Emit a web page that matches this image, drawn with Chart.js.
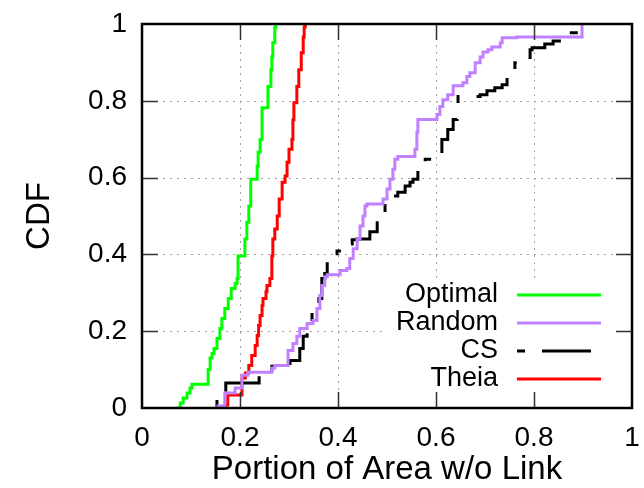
<!DOCTYPE html>
<html>
<head>
<meta charset="utf-8">
<script src="https://cdn.jsdelivr.net/npm/chart.js@4.4.0/dist/chart.umd.min.js"></script>
<style>
  html, body { margin: 0; padding: 0; background: #fff; }
  canvas { display: block; }
</style>
</head>
<body>
<canvas id="graphiqueCDF" width="644" height="488"></canvas>
<script>
// ==========================================================
// DONNEES
// ==========================================================
const nomsSeries = ['Optimal', 'Random', 'CS', 'Theia'];
const xTickLabels = ['0', '0.2', '0.4', '0.6', '0.8', '1'];
const yTickLabels = ['0', '0.2', '0.4', '0.6', '0.8', '1'];

const optimalX = [0.069, 0.078, 0.084, 0.092, 0.098, 0.102, 0.133, 0.135, 0.139, 0.143, 0.147, 0.153, 0.159, 0.163, 0.169, 0.176, 0.182, 0.190, 0.194, 0.196, 0.206, 0.210, 0.214, 0.218, 0.222, 0.231, 0.235, 0.237, 0.241, 0.245, 0.247, 0.257, 0.263, 0.265, 0.267, 0.271, 0.273];
const optimalY = [0, 0.013, 0.026, 0.039, 0.052, 0.062, 0.062, 0.100, 0.130, 0.142, 0.155, 0.181, 0.207, 0.233, 0.259, 0.285, 0.311, 0.324, 0.337, 0.396, 0.396, 0.440, 0.484, 0.526, 0.596, 0.596, 0.630, 0.666, 0.699, 0.782, 0.782, 0.837, 0.881, 0.915, 0.951, 0.990, 1];

const randomX = [0.155, 0.155, 0.169, 0.190, 0.204, 0.216, 0.265, 0.271, 0.298, 0.298, 0.308, 0.316, 0.322, 0.337, 0.349, 0.357, 0.363, 0.367, 0.373, 0.378, 0.400, 0.404, 0.418, 0.424, 0.431, 0.439, 0.445, 0.451, 0.455, 0.459, 0.490, 0.492, 0.500, 0.506, 0.512, 0.516, 0.522, 0.553, 0.557, 0.561, 0.563, 0.594, 0.602, 0.608, 0.614, 0.624, 0.635, 0.655, 0.663, 0.669, 0.680, 0.690, 0.696, 0.706, 0.714, 0.731, 0.735, 0.765, 0.898, 0.898];
const randomY = [0, 0.005, 0.039, 0.052, 0.085, 0.093, 0.104, 0.111, 0.111, 0.150, 0.168, 0.187, 0.207, 0.220, 0.228, 0.259, 0.293, 0.319, 0.342, 0.347, 0.347, 0.358, 0.363, 0.389, 0.415, 0.440, 0.474, 0.500, 0.526, 0.531, 0.531, 0.544, 0.570, 0.596, 0.622, 0.648, 0.655, 0.655, 0.674, 0.718, 0.751, 0.751, 0.764, 0.785, 0.803, 0.816, 0.839, 0.847, 0.863, 0.873, 0.899, 0.914, 0.927, 0.933, 0.940, 0.951, 0.964, 0.966, 0.966, 1];

const csX = [0.153, 0.153, 0.171, 0.171, 0.237, 0.239, 0.265, 0.302, 0.322, 0.329, 0.337, 0.347, 0.347, 0.361, 0.367, 0.373, 0.378, 0.384, 0.398, 0.408, 0.418, 0.429, 0.439, 0.465, 0.480, 0.496, 0.510, 0.522, 0.537, 0.547, 0.553, 0.563, 0.578, 0.592, 0.612, 0.624, 0.635, 0.643, 0.645, 0.673, 0.690, 0.704, 0.720, 0.735, 0.745, 0.761, 0.765, 0.782, 0.792, 0.796, 0.808, 0.822, 0.839, 0.863, 0.898, 0.904, 0.908];
const csY = [0, 0.021, 0.039, 0.065, 0.065, 0.083, 0.109, 0.124, 0.155, 0.187, 0.207, 0.233, 0.251, 0.285, 0.337, 0.350, 0.389, 0.402, 0.409, 0.420, 0.427, 0.438, 0.440, 0.459, 0.505, 0.544, 0.552, 0.562, 0.578, 0.588, 0.596, 0.630, 0.648, 0.668, 0.699, 0.725, 0.751, 0.782, 0.811, 0.811, 0.816, 0.826, 0.834, 0.842, 0.863, 0.899, 0.907, 0.907, 0.933, 0.938, 0.938, 0.948, 0.956, 0.977, 0.977, 0.984, 1];

const theiaX = [0.171, 0.171, 0.175, 0.202, 0.204, 0.211, 0.218, 0.224, 0.231, 0.235, 0.238, 0.241, 0.245, 0.247, 0.253, 0.255, 0.261, 0.265, 0.267, 0.271, 0.276, 0.280, 0.286, 0.292, 0.296, 0.300, 0.306, 0.308, 0.310, 0.316, 0.320, 0.325, 0.329, 0.331, 0.333];
const theiaY = [0, 0.008, 0.034, 0.034, 0.078, 0.091, 0.111, 0.137, 0.163, 0.189, 0.215, 0.241, 0.267, 0.285, 0.303, 0.319, 0.337, 0.396, 0.440, 0.466, 0.500, 0.544, 0.588, 0.604, 0.640, 0.674, 0.699, 0.750, 0.795, 0.837, 0.881, 0.925, 0.966, 0.992, 1];

// ==========================================================
// CONSTRUCTION DES SERIES
// ==========================================================
const versPoints = (xs, ys) => xs.map((v, i) => ({ x: v, y: ys[i] }));

const series = [
    { nom: nomsSeries[0], pts: versPoints(optimalX, optimalY), couleur: '#00ff00', tirets: [] },
    { nom: nomsSeries[1], pts: versPoints(randomX, randomY), couleur: '#c080ff', tirets: [] },
    { nom: nomsSeries[2], pts: versPoints(csX, csY), couleur: '#000000', tirets: [8, 17, 49, 17] },
    { nom: nomsSeries[3], pts: versPoints(theiaX, theiaY), couleur: '#ff0000', tirets: [] }
];

const datasets = series.map(s => ({
    label: s.nom,
    data: s.pts,
    borderColor: s.couleur,
    borderWidth: 3,
    borderDash: s.tirets,
    pointRadius: 0,
    fill: false,
    tension: 0,
    stepped: true
}));

// ==========================================================
// CADRE, GRILLE, GRADUATIONS ET LEGENDE facon gnuplot
// ==========================================================
const police = '"Liberation Sans", Arial, sans-serif';

const cadreGnuplot = {
    id: 'cadreGnuplot',
    beforeDatasetsDraw(chart) {
        const { ctx, chartArea: a, scales: { x, y } } = chart;
        ctx.save();
        ctx.strokeStyle = '#a0a0a0';
        ctx.lineWidth = 1;
        ctx.setLineDash([2, 5]);
        x.ticks.forEach(t => {
            if (t.value <= 0 || t.value >= 1) return;
            const px = Math.round(x.getPixelForValue(t.value)) + 0.5;
            ctx.beginPath(); ctx.moveTo(px, a.top); ctx.lineTo(px, a.bottom); ctx.stroke();
        });
        y.ticks.forEach(t => {
            if (t.value <= 0 || t.value >= 1) return;
            const py = Math.round(y.getPixelForValue(t.value)) + 0.5;
            ctx.beginPath(); ctx.moveTo(a.left, py); ctx.lineTo(a.right, py); ctx.stroke();
        });
        ctx.setLineDash([]);
        // fond blanc de la legende
        ctx.fillStyle = '#ffffff';
        ctx.fillRect(385, 281, a.right - 385, a.bottom - 281);
        ctx.restore();
    },
    afterDatasetsDraw(chart) {
        const { ctx, chartArea: a, scales: { x, y } } = chart;
        const longTick = 16;
        ctx.save();
        ctx.strokeStyle = '#333';
        ctx.lineWidth = 1.5;
        x.ticks.forEach(t => {
            if (t.value <= 0 || t.value >= 1) return;
            const px = Math.round(x.getPixelForValue(t.value)) + 0.5;
            ctx.beginPath();
            ctx.moveTo(px, a.bottom); ctx.lineTo(px, a.bottom - longTick);
            ctx.moveTo(px, a.top); ctx.lineTo(px, a.top + longTick);
            ctx.stroke();
        });
        y.ticks.forEach(t => {
            if (t.value <= 0 || t.value >= 1) return;
            const py = Math.round(y.getPixelForValue(t.value)) + 0.5;
            ctx.beginPath();
            ctx.moveTo(a.left, py); ctx.lineTo(a.left + longTick, py);
            ctx.moveTo(a.right, py); ctx.lineTo(a.right - longTick, py);
            ctx.stroke();
        });
        // bordure
        ctx.strokeStyle = '#000';
        ctx.lineWidth = 2.5;
        ctx.strokeRect(a.left, a.top, a.right - a.left, a.bottom - a.top);

        // legende
        ctx.font = '27px ' + police;
        ctx.textAlign = 'right';
        ctx.textBaseline = 'middle';
        chart.data.datasets.forEach((ds, i) => {
            const ly = 295 + i * 28;
            ctx.fillStyle = '#000';
            ctx.fillText(ds.label, 498, ly);
            ctx.strokeStyle = ds.borderColor;
            ctx.lineWidth = 3;
            ctx.setLineDash(ds.borderDash || []);
            ctx.beginPath(); ctx.moveTo(517, ly); ctx.lineTo(601, ly); ctx.stroke();
        });
        ctx.restore();
    }
};

// ==========================================================
// GRAPHIQUE
// ==========================================================
const ctx = document.getElementById('graphiqueCDF').getContext('2d');
new Chart(ctx, {
    type: 'line',
    data: { datasets: datasets },
    options: {
        responsive: false,
        animation: false,
        layout: { padding: { top: 24, right: 12, left: 0, bottom: 0 } },
        plugins: { legend: { display: false }, tooltip: { enabled: false } },
        scales: {
            x: {
                type: 'linear',
                min: 0, max: 1,
                grid: { display: false },
                border: { display: false },
                ticks: {
                    stepSize: 0.2,
                    padding: 5,
                    color: '#000',
                    font: { family: police, size: 28, lineHeight: 1.2 },
                    callback: (v, i) => xTickLabels[i]
                },
                title: {
                    display: true,
                    text: 'Portion of Area w/o Link',
                    color: '#000',
                    font: { family: police, size: 33, lineHeight: 1 },
                    padding: { top: 0, bottom: 2 }
                },
                afterFit: scale => {
                    scale.height = 80;
                    scale.paddingLeft = 0;
                    scale.paddingRight = 0;
                }
            },
            y: {
                min: 0, max: 1,
                grid: { display: false },
                border: { display: false },
                ticks: {
                    stepSize: 0.2,
                    padding: 7,
                    color: '#000',
                    font: { family: police, size: 28, lineHeight: 1.2 },
                    callback: (v, i) => yTickLabels[i]
                },
                title: {
                    display: true,
                    text: 'CDF',
                    color: '#000',
                    font: { family: police, size: 33, lineHeight: 1 },
                    padding: { top: 23, bottom: 0 }
                },
                afterFit: scale => {
                    scale.width = 142;
                    scale.paddingTop = 0;
                    scale.paddingBottom = 0;
                }
            }
        }
    },
    plugins: [cadreGnuplot]
});
</script>
</body>
</html>
